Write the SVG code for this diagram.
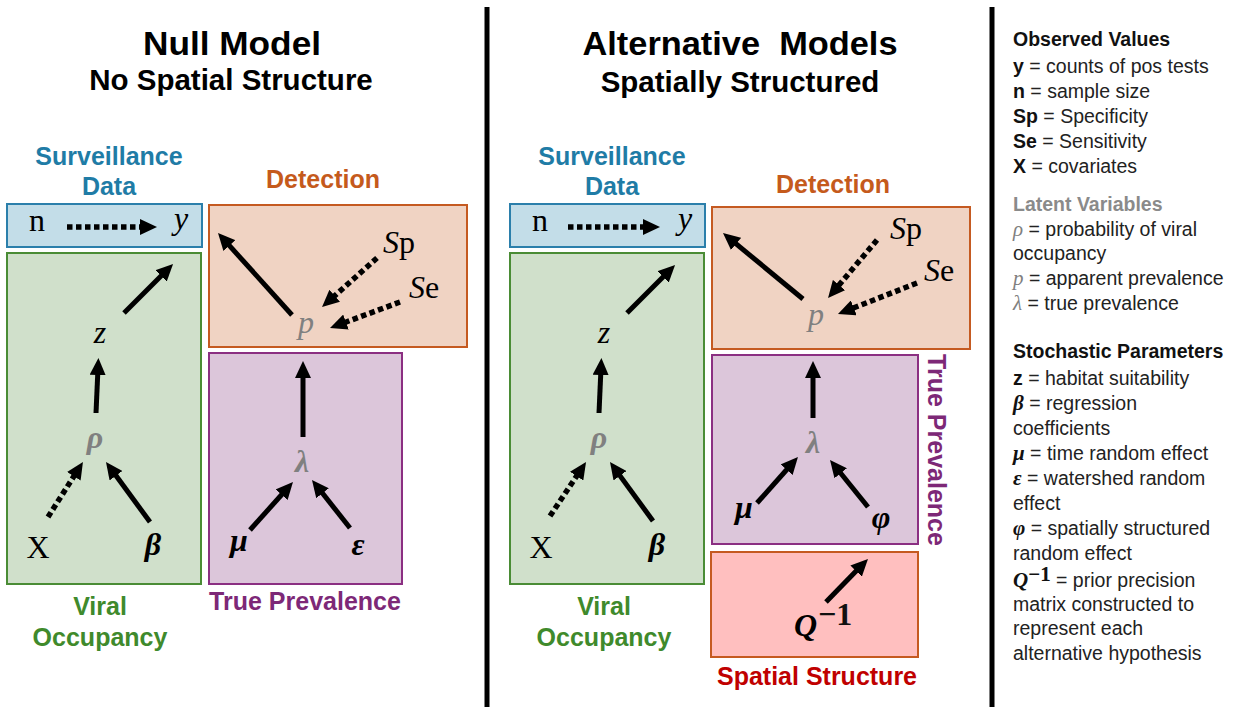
<svg xmlns="http://www.w3.org/2000/svg" width="1237" height="707" viewBox="0 0 1237 707">
  <style>
    .title { font-family: "Liberation Sans", Arial, sans-serif; font-weight: bold; fill: #000; text-anchor: middle; white-space: pre; }
    .sec { font-family: "Liberation Sans", Arial, sans-serif; font-weight: bold; font-size: 25px; text-anchor: middle; }
    .blue { fill: #1f7ca6; }
    .orange { fill: #c55a1c; }
    .green { fill: #3f8a2c; }
    .purple { fill: #7d2877; }
    .red { fill: #c00000; }
    .m { font-family: "Liberation Serif", "DejaVu Serif", serif; font-size: 32px; fill: #000; text-anchor: middle; }
    .m.st { text-anchor: start; }
    .m.en { text-anchor: end; }
    .it { font-style: italic; }
    .bi { font-style: italic; font-weight: bold; }
    .lat { fill: #808080; }
    .box-blue { fill: #c3dde8; stroke: #2b7fab; stroke-width: 2; }
    .box-green { fill: #d0e0cb; stroke: #4a8c35; stroke-width: 2; }
    .box-orange { fill: #f0d3c3; stroke: #c55a21; stroke-width: 2; }
    .box-purple { fill: #dcc6da; stroke: #8b2f82; stroke-width: 2; }
    .box-red { fill: #ffbfbf; stroke: #c55a21; stroke-width: 2; }
    .solid { stroke: #000; stroke-width: 5; fill: none; marker-end: url(#head); }
    .dots { stroke: #000; stroke-width: 5.5; stroke-dasharray: 5.5 3.5; fill: none; marker-end: url(#head); }
    .leg { font-family: "Liberation Sans", Arial, sans-serif; font-size: 19.5px; fill: #222; }
    .legh { font-family: "Liberation Sans", Arial, sans-serif; font-size: 19.5px; font-weight: bold; fill: #111; }
    .legm { font-family: "Liberation Serif", "DejaVu Serif", serif; font-size: 21px; }
    .b { font-weight: bold; fill: #111; }
  </style>
  <defs>
    <marker id="head" markerUnits="userSpaceOnUse" viewBox="0 0 17 16" markerWidth="17" markerHeight="16" refX="7" refY="8" orient="auto">
      <path d="M0,0 L17,8 L0,16 z" fill="#000"/>
    </marker>
  </defs>

  <rect width="1237" height="707" fill="#fff"/>

  <!-- panel dividers -->
  <line x1="487" y1="7" x2="487" y2="707" stroke="#000" stroke-width="5"/>
  <line x1="992" y1="7" x2="992" y2="707" stroke="#000" stroke-width="5"/>

  <!-- headings -->
  <text class="title" x="232" y="55" font-size="33" textLength="178" lengthAdjust="spacingAndGlyphs">Null Model</text>
  <text class="title" x="231" y="90" font-size="29.5">No Spatial Structure</text>
  <text class="title" x="740" y="55" font-size="33" textLength="315" lengthAdjust="spacingAndGlyphs">Alternative  Models</text>
  <text class="title" x="740" y="92" font-size="29.5">Spatially Structured</text>

  <!-- ===== Null model ===== -->
  <g id="null-surveillance">
    <rect class="box-blue" x="7" y="204" width="195" height="43"/>
    <text class="sec blue" x="109" y="165">Surveillance</text>
    <text class="sec blue" x="109" y="195">Data</text>
    <text class="m" x="37" y="231">n</text>
    <text class="m it" x="181" y="229">y</text>
  </g>
  <g id="null-occupancy">
    <rect class="box-green" x="7" y="253" width="194" height="331"/>
    <text class="sec green" x="100" y="615">Viral</text>
    <text class="sec green" x="100" y="646">Occupancy</text>
    <text class="m it" x="100" y="343">z</text>
    <text class="m bi lat" x="95" y="448">ρ</text>
    <text class="m" x="38" y="558">X</text>
    <text class="m bi" x="153" y="555">β</text>
  </g>
  <g id="null-detection">
    <rect class="box-orange" x="209" y="205" width="258" height="142"/>
    <text class="sec orange" x="323" y="188">Detection</text>
    <text class="m it lat" x="306" y="333">p</text>
    <text class="m st" x="383" y="253"><tspan class="it">S</tspan>p</text>
    <text class="m st" x="409" y="298"><tspan class="it">S</tspan>e</text>
  </g>
  <g id="null-prevalence">
    <rect class="box-purple" x="209" y="353" width="193" height="231"/>
    <text class="sec purple" x="305" y="610">True Prevalence</text>
    <text class="m bi lat" x="302" y="472">λ</text>
    <text class="m bi" x="239" y="551">μ</text>
    <text class="m bi" x="358" y="555">ε</text>
  </g>

  <!-- ===== Alternative models ===== -->
  <g id="alt-surveillance">
    <rect class="box-blue" x="510" y="204" width="195" height="43"/>
    <text class="sec blue" x="612" y="165">Surveillance</text>
    <text class="sec blue" x="612" y="195">Data</text>
    <text class="m" x="540" y="231">n</text>
    <text class="m it" x="685" y="229">y</text>
  </g>
  <g id="alt-occupancy">
    <rect class="box-green" x="510" y="253" width="194" height="331"/>
    <text class="sec green" x="604" y="615">Viral</text>
    <text class="sec green" x="604" y="646">Occupancy</text>
    <text class="m it" x="604" y="343">z</text>
    <text class="m bi lat" x="599" y="448">ρ</text>
    <text class="m" x="541" y="558">X</text>
    <text class="m bi" x="657" y="555">β</text>
  </g>
  <g id="alt-detection">
    <rect class="box-orange" x="712" y="207" width="258" height="142"/>
    <text class="sec orange" x="833" y="193">Detection</text>
    <text class="m it lat" x="816" y="325">p</text>
    <text class="m st" x="890" y="239"><tspan class="it">S</tspan>p</text>
    <text class="m st" x="924" y="281"><tspan class="it">S</tspan>e</text>
  </g>
  <g id="alt-prevalence">
    <rect class="box-purple" x="712" y="355" width="206" height="189"/>
    <text class="sec purple" transform="translate(928 450) rotate(90)">True Prevalence</text>
    <text class="m bi lat" x="813" y="453">λ</text>
    <text class="m bi" x="744" y="518">μ</text>
    <text class="m bi" x="881" y="528">φ</text>
  </g>
  <g id="alt-spatial">
    <rect class="box-red" x="711" y="552" width="207" height="105"/>
    <text class="sec red" x="817" y="685">Spatial Structure</text>
    <text class="m bi en" x="817" y="636">Q</text>
    <text class="m st b" x="818" y="625" font-size="20">−1</text>
  </g>

  <!-- connectors -->
  <g id="connectors">
    <!-- null model -->
    <line class="dots" x1="67" y1="227" x2="147" y2="227"/>
    <line class="solid" x1="124" y1="313" x2="166" y2="271"/>
    <line class="solid" x1="96" y1="413" x2="98" y2="368"/>
    <line class="dots" x1="48" y1="517" x2="77.6" y2="470.4"/>
    <line class="solid" x1="150" y1="522" x2="111.9" y2="470.1"/>
    <line class="solid" x1="292" y1="315" x2="224.7" y2="240.4"/>
    <line class="dots" x1="377" y1="258" x2="329.5" y2="300.4"/>
    <line class="dots" x1="400" y1="302" x2="339.4" y2="324.5"/>
    <line class="solid" x1="303" y1="437" x2="303" y2="371"/>
    <line class="solid" x1="250" y1="530" x2="286.3" y2="489.5"/>
    <line class="solid" x1="350" y1="528" x2="318.2" y2="487.8"/>
    <!-- alternative models -->
    <line class="dots" x1="568" y1="227" x2="650" y2="227"/>
    <line class="solid" x1="627" y1="313" x2="668" y2="272"/>
    <line class="solid" x1="599" y1="413" x2="601" y2="368"/>
    <line class="dots" x1="550" y1="516" x2="580.5" y2="470.3"/>
    <line class="solid" x1="653" y1="521" x2="615.9" y2="470.1"/>
    <line class="solid" x1="803" y1="299" x2="730.7" y2="239.4"/>
    <line class="dots" x1="877" y1="240" x2="834.5" y2="290.4"/>
    <line class="dots" x1="917" y1="283" x2="847.3" y2="310.4"/>
    <line class="solid" x1="813" y1="418" x2="813" y2="371"/>
    <line class="solid" x1="757" y1="503" x2="791.3" y2="464.5"/>
    <line class="solid" x1="868" y1="507" x2="836.3" y2="467.8"/>
    <line class="solid" x1="826" y1="602" x2="861" y2="566.1"/>
  </g>

  <!-- legend -->
  <g id="legend">
    <text class="legh" x="1013" y="46">Observed Values</text>
    <text class="leg" x="1013" y="73"><tspan class="b">y</tspan> = counts of pos tests</text>
    <text class="leg" x="1013" y="98"><tspan class="b">n</tspan> = sample size</text>
    <text class="leg" x="1013" y="123"><tspan class="b">Sp</tspan> = Specificity</text>
    <text class="leg" x="1013" y="148"><tspan class="b">Se</tspan> = Sensitivity</text>
    <text class="leg" x="1013" y="173"><tspan class="b">X</tspan> = covariates</text>

    <text class="legh" x="1013" y="211" style="fill:#8a8a8a">Latent Variables</text>
    <text class="leg" x="1013" y="236"><tspan class="legm it lat">ρ</tspan> = probability of viral</text>
    <text class="leg" x="1013" y="260">occupancy</text>
    <text class="leg" x="1013" y="285"><tspan class="legm it lat">p</tspan> = apparent prevalence</text>
    <text class="leg" x="1013" y="310"><tspan class="legm it lat">λ</tspan> = true prevalence</text>

    <text class="legh" x="1013" y="358">Stochastic Parameters</text>
    <text class="leg" x="1013" y="385"><tspan class="b">z</tspan> = habitat suitability</text>
    <text class="leg" x="1013" y="410"><tspan class="legm bi b">β</tspan> = regression</text>
    <text class="leg" x="1013" y="435">coefficients</text>
    <text class="leg" x="1013" y="460"><tspan class="legm bi b">μ</tspan> = time random effect</text>
    <text class="leg" x="1013" y="485"><tspan class="legm bi b">ε</tspan> = watershed random</text>
    <text class="leg" x="1013" y="510">effect</text>
    <text class="leg" x="1013" y="535"><tspan class="legm bi b">φ</tspan> = spatially structured</text>
    <text class="leg" x="1013" y="560">random effect</text>
    <text class="leg" x="1013" y="587"><tspan class="legm bi b">Q</tspan><tspan class="legm b" font-size="13" dy="-6">−1</tspan><tspan dy="6"> = prior precision</tspan></text>
    <text class="leg" x="1013" y="611">matrix constructed to</text>
    <text class="leg" x="1013" y="635">represent each</text>
    <text class="leg" x="1013" y="660">alternative hypothesis</text>
  </g>
</svg>
